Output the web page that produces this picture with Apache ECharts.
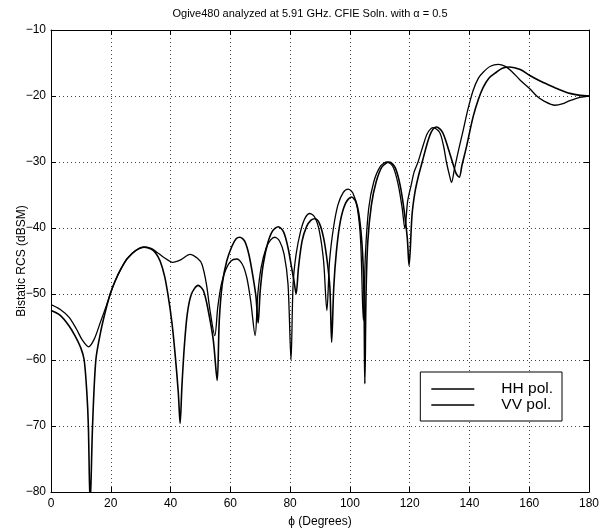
<!DOCTYPE html>
<html>
<head>
<meta charset="utf-8">
<script src="https://cdn.jsdelivr.net/npm/echarts@6/dist/echarts.min.js"></script>
<style>
html,body{margin:0;padding:0;background:#fff;}
#chart{width:601px;height:532px;}
</style>
</head>
<body>
<div id="chart"></div>
<script>
const titleText = 'Ogive480 analyzed at 5.91 GHz. CFIE Soln. with \u03b1 = 0.5';
const xName = '\u03d5 (Degrees)';
const yName = 'Bistatic RCS (dBSM)';
const seriesNames = ['HH pol.', 'VV pol.'];

const hhPhi = [0,3,6,8.5,10.5,12.6,14.5,16.5,18.5,20,21.5,23.4,25.6,28.4,31.2,33.5,35.5,37.9,40.7,43.5,46.5,49,50.5,52,53.2,54.8,55.8,57,58.5,60.2,62.1,64,65.5,66.8,68.3,69.2,70.3,72,73.5,74.9,76.5,78,79.3,80.3,81,82,83.5,85,86.6,88.3,89.8,91.2,92.3,93.2,94.5,96,97.8,99.4,101,102.5,103.6,104.5,105.2,106.3,108,110.3,112.5,114.5,116.2,117.5,118.4,119.3,120.5,121.5,122.8,124.5,126,127.9,130,131.3,132.3,133.3,134,135,136.2,137.9,139.5,141.2,143,144.6,147,149.6,152,154,157,160.2,162.5,164.7,168.6,171,173.6,177,180];
const hhRcs = [-51.6,-52.3,-53.5,-55.3,-57,-58,-56.8,-54.3,-51.8,-49.8,-48,-46.2,-44.6,-43.4,-42.9,-43.1,-43.7,-44.5,-45.2,-44.8,-44,-44.6,-45.5,-48.5,-52.5,-56.3,-52,-48.5,-46.3,-45,-44.7,-45.5,-47.5,-51,-56.3,-50,-46,-43,-41.8,-41.4,-42,-44,-48.5,-60,-48.5,-44,-40.5,-38.5,-37.8,-38.4,-40.5,-45,-52.5,-45,-40,-36.5,-34.6,-34.1,-34.7,-37,-42,-54,-44,-37,-33,-30.6,-30,-30.8,-33.5,-37,-40.1,-36,-33.5,-31.5,-30,-27.5,-25.6,-24.8,-25.5,-27.5,-30,-32,-33.1,-31,-28.5,-25.2,-22,-19.2,-17.3,-16.4,-15.5,-15.2,-15.5,-16.2,-17.6,-18.9,-20,-20.7,-21.4,-21.2,-20.7,-20.2,-20];

const vvPhi = [0,3,6,8,10,11.1,12,12.5,13.1,13.9,15,16.5,18,19.8,21.5,23.4,25.6,28.4,31.2,33.5,35,36.5,38,39.2,40.5,41.5,42.6,43.2,43.8,44.6,45.6,47,49.2,51,52.6,54.3,55.6,56.3,57.3,58.8,60.5,62,63.2,64.8,66.3,67.8,68.6,69.3,70,71,72.5,74.2,76,77.8,79.3,80.5,81.3,82,82.8,84,85.5,87,88.3,89.8,91.2,92.4,93.3,93.9,94.6,95.5,96.8,98.5,100.5,102,103.2,104.2,104.7,105,105.4,106,107.2,108.8,110.8,113.2,115.2,116.8,118.2,119.2,119.8,120.8,121.8,123,124.2,125.8,127.3,129,131,132.8,134.5,135.6,136.6,137.5,139,141.2,143,144.6,146.5,149,151,153.5,157,160.2,163.5,166.9,170,173.6,177,180];
const vvRcs = [-52.5,-53.2,-54.8,-56.3,-58.2,-60,-65,-70,-82,-70,-60,-56,-53,-50,-48,-46.2,-44.6,-43.4,-42.9,-43.2,-43.8,-45,-47.3,-50.3,-54.5,-59,-65,-69.6,-64,-58,-53,-50,-48.7,-49.5,-52.5,-57,-63.1,-54,-48.5,-45,-42.8,-41.6,-41.4,-42,-44.2,-48,-50.5,-54.4,-49.5,-45.5,-42.3,-40.4,-39.8,-40.6,-43,-46,-48,-50,-46,-42,-39.8,-38.8,-38.6,-39.3,-41.5,-45,-49,-57.3,-49,-43.5,-39,-36.3,-35.3,-36,-38.5,-43.5,-50,-63.6,-50,-42,-36.5,-33,-30.7,-30,-30.9,-33.5,-37.5,-41.5,-45.7,-38,-34.5,-32,-30,-27.3,-25.4,-24.7,-25.5,-27.8,-30.3,-31.8,-32.3,-30.5,-27.7,-23.2,-20.5,-18.7,-17.3,-16.4,-15.8,-15.6,-16,-16.9,-17.7,-18.4,-19,-19.6,-19.9,-20];

const xMin = 0, xMax = 180, xStep = 20;
const yMin = -80, yMax = -10, yStep = 10;

function zip(a, b) { return a.map((v, i) => [v, b[i]]); }
const FONT = 'Liberation Sans, Arial, Helvetica, sans-serif';
const fmt = v => String(v).replace('-', '\u2212');

const chart = echarts.init(document.getElementById('chart'), null, {renderer: 'canvas'});
const gridLine = {show: true, lineStyle: {color: '#444', width: 1, type: [1, 3]}};
const axLine = {show: true, onZero: false, lineStyle: {color: '#000', width: 1}};
const tick = {show: true, inside: true, length: 5, lineStyle: {color: '#000'}};

chart.setOption({
  animation: false,
  backgroundColor: '#fff',
  title: {
    text: titleText, left: 305, top: 3, textAlign: 'center',
    textStyle: {fontFamily: FONT, fontSize: 11, fontWeight: 'normal', color: '#000'}
  },
  grid: {left: 51, right: 12, top: 30, bottom: 40, show: false, containLabel: false, outerBoundsMode: 'none'},
  legend: {
    orient: 'vertical', right: 39, top: 372,
    backgroundColor: '#fff', borderColor: '#000', borderWidth: 1,
    padding: [9, 9, 8, 11], itemGap: 0, itemWidth: 43, itemHeight: 1.4,
    icon: 'rect',
    textStyle: {fontFamily: FONT, fontSize: 15.5, color: '#000', padding: [0, 0, 0, 22], lineHeight: 14},
    data: seriesNames
  },
  xAxis: [{
    type: 'value', min: xMin, max: xMax, interval: xStep, position: 'bottom',
    name: xName, nameLocation: 'middle', nameGap: 24, nameMoveOverlap: false,
    nameTextStyle: {fontFamily: FONT, fontSize: 12, color: '#000'},
    axisLine: axLine, axisTick: tick, splitLine: gridLine,
    axisLabel: {fontFamily: FONT, fontSize: 12, color: '#000', margin: 6, formatter: fmt}
  }, {
    type: 'value', min: xMin, max: xMax, interval: xStep, position: 'top',
    axisLine: axLine, axisTick: tick, splitLine: {show: false}, axisLabel: {show: false}
  }],
  yAxis: [{
    type: 'value', min: yMin, max: yMax, interval: yStep, position: 'left',
    name: yName, nameLocation: 'middle', nameGap: 23, nameMoveOverlap: false,
    nameTextStyle: {fontFamily: FONT, fontSize: 12, color: '#000'},
    axisLine: axLine, axisTick: tick, splitLine: gridLine,
    axisLabel: {fontFamily: FONT, fontSize: 12, color: '#000', margin: 5, formatter: fmt}
  }, {
    type: 'value', min: yMin, max: yMax, interval: yStep, position: 'right',
    axisLine: axLine, axisTick: tick, splitLine: {show: false}, axisLabel: {show: false}
  }],
  series: [{
    name: seriesNames[0], type: 'line', data: zip(hhPhi, hhRcs),
    symbol: 'none', smooth: 0.3, clip: true,
    lineStyle: {color: '#000', width: 1.3}, itemStyle: {color: '#000'}
  }, {
    name: seriesNames[1], type: 'line', data: zip(vvPhi, vvRcs),
    symbol: 'none', smooth: 0.3, clip: true,
    lineStyle: {color: '#000', width: 1.6}, itemStyle: {color: '#000'}
  }]
});
</script>
</body>
</html>
